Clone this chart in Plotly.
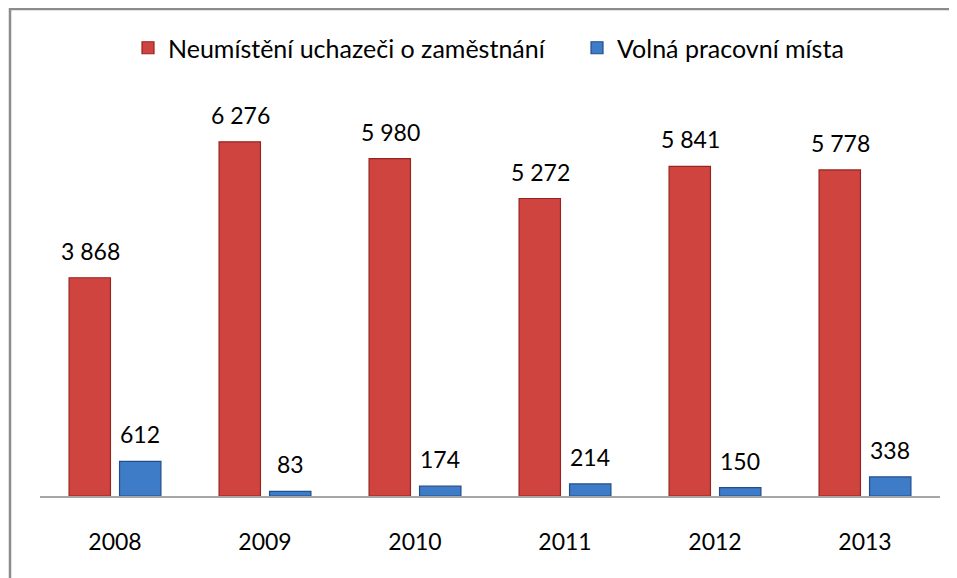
import plotly.graph_objects as go

years = ["2008", "2009", "2010", "2011", "2012", "2013"]
uchazeci = [3868, 6276, 5980, 5272, 5841, 5778]
mista = [612, 83, 174, 214, 150, 338]
series_names = ["Neumístění uchazeči o zaměstnání", "Volná pracovní místa"]

def fmt(v):
    return f"{v:,}".replace(",", " ")

FONT = "Lato"
fig = go.Figure()
fig.add_trace(go.Bar(
    x=years, y=uchazeci, name=series_names[0], legend="legend",
    marker=dict(color="#D0443F", line=dict(color="#962420", width=1.2)),
))
fig.add_trace(go.Bar(
    x=years, y=mista, name=series_names[1], legend="legend2",
    marker=dict(color="#3E7CC7", line=dict(color="#224E8C", width=1.2)),
))

annotations = []
for vals, shift in ((uchazeci, -25), (mista, 25)):
    for i, v in enumerate(vals):
        annotations.append(dict(
            x=i, y=v, xref="x", yref="y", text=fmt(v), showarrow=False,
            xshift=shift, yanchor="bottom", yshift=11,
            font=dict(family=FONT, size=23, color="#000000"),
        ))

legend_common = dict(orientation="h", xref="container", yref="container",
                     xanchor="left", y=1 - 40 / 578, yanchor="middle",
                     font=dict(family=FONT, size=25), itemwidth=30,
                     bgcolor="rgba(0,0,0,0)")

fig.update_layout(
    width=957, height=578,
    margin=dict(l=32, r=25, t=93, b=90, autoexpand=False),
    paper_bgcolor="white", plot_bgcolor="white",
    barmode="group", bargap=0.327, bargroupgap=0.18,
    font=dict(family=FONT, size=23, color="#000000"),
    showlegend=True,
    legend=dict(x=120 / 957, **legend_common),
    legend2=dict(x=569 / 957, **legend_common),
    annotations=annotations,
    shapes=[dict(type="rect", xref="paper", yref="paper",
                 x0=-30 / 900, x1=1.05, y0=-0.3, y1=(395 + 93 - 1) / 395,
                 line=dict(color="#8C8C8C", width=2.5), layer="below")],
)
fig.update_xaxes(type="category", showline=True, linecolor="#A6A6A6", linewidth=2,
                 ticks="outside", ticklen=24, tickcolor="rgba(0,0,0,0)",
                 tickfont=dict(family=FONT, size=23, color="#000000"),
                 showgrid=False)
fig.update_yaxes(range=[0, 7000], visible=False, showgrid=False)

fig.write_html("out.html")
